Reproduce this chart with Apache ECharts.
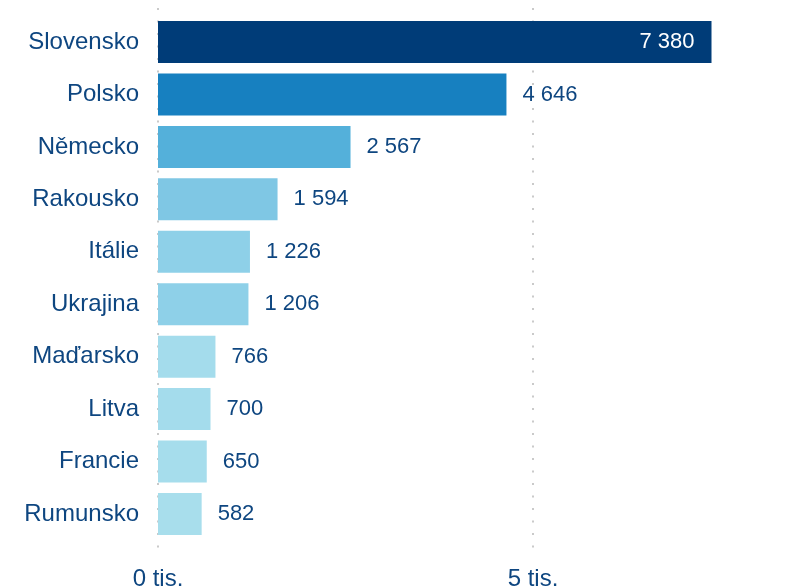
<!DOCTYPE html>
<html>
<head>
<meta charset="utf-8">
<script src="https://cdn.jsdelivr.net/npm/echarts@6/dist/echarts.min.js"></script>
<style>
  html, body { margin: 0; padding: 0; background: #fff; }
  #chart { width: 796px; height: 588px; }
</style>
</head>
<body>
<div id="chart"></div>
<script>
// země a počty
const countries = ["Slovensko", "Polsko", "Německo", "Rakousko", "Itálie", "Ukrajina", "Maďarsko", "Litva", "Francie", "Rumunsko"];
const values = [7380, 4646, 2567, 1594, 1226, 1206, 766, 700, 650, 582];
const barColors = ["#003c78", "#1780c0", "#54b0da", "#7fc7e4", "#8ed0e8", "#8ed0e8", "#a4dcec", "#a4dcec", "#a6ddec", "#a8deec"];

const textColor = "#0e4680";
const fmt = (v) => String(v).replace(/\B(?=(\d{3})+(?!\d))/g, " ");

const chart = echarts.init(document.getElementById("chart"));

const data = values.map((v, i) => ({
  value: v,
  itemStyle: { color: barColors[i] },
  label: i === 0
    ? { position: "insideRight", distance: 17, color: "#fff" }
    : { position: "right", distance: 16, color: textColor }
}));

chart.setOption({
  animation: false,
  grid: [
    // mřížka jen kvůli tečkovaným čarám a popiskům osy
    { left: 158, top: 8, width: 750, height: 547, outerBoundsMode: "none", containLabel: false },
    // mřížka se sloupci
    { left: 158, top: 15.8, width: 750, height: 524.4, outerBoundsMode: "none", containLabel: false }
  ],
  xAxis: [
    {
      gridIndex: 0, type: "value", min: 0, max: 10000, interval: 5000,
      axisLine: { show: false }, axisTick: { show: false },
      splitLine: { show: true, lineStyle: { color: "#cacaca", width: 2, type: [2, 10.5] } },
      axisLabel: {
        margin: 12, fontSize: 24, fontFamily: "Liberation Sans, Arial", color: textColor,
        formatter: (v) => v / 1000 + " tis."
      }
    },
    {
      gridIndex: 1, type: "value", min: 0, max: 10000, interval: 5000,
      show: false, splitLine: { show: false }
    }
  ],
  yAxis: [
    { gridIndex: 0, type: "value", show: false, splitLine: { show: false } },
    {
      gridIndex: 1, type: "category", data: countries, inverse: true,
      axisLine: { show: false }, axisTick: { show: false },
      axisLabel: {
        margin: 19, fontSize: 24, fontFamily: "Liberation Sans, Arial", color: textColor
      }
    }
  ],
  series: [{
    type: "bar",
    xAxisIndex: 1,
    yAxisIndex: 1,
    barWidth: 42,
    data: data,
    label: {
      show: true, fontSize: 22, fontFamily: "Liberation Sans, Arial",
      formatter: (p) => fmt(p.value)
    }
  }]
});
</script>
</body>
</html>
